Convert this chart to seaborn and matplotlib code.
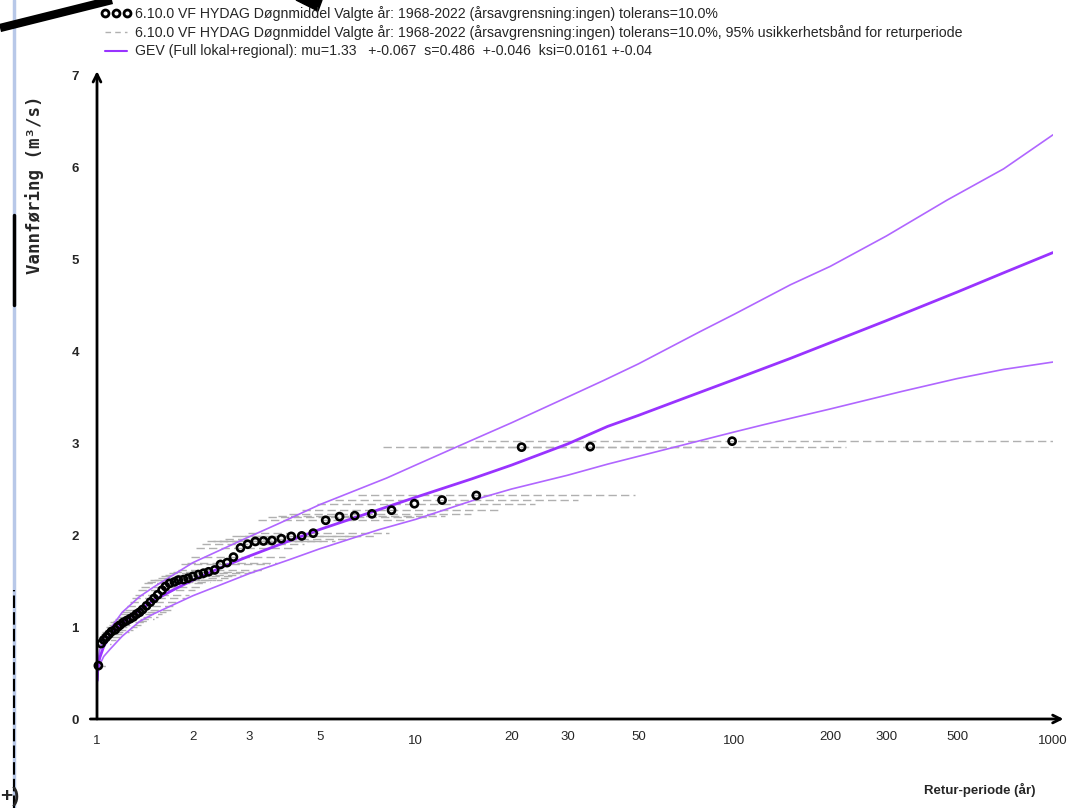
import numpy as np
import pandas as pd
import matplotlib.pyplot as plt
import matplotlib.lines as mlines
import matplotlib.patches as mpatches
import seaborn as sns

# Observerte årsmaksima (sortert fra største), returperiode for hver verdi
retur_obs = [98.4, 35.3, 21.5, 15.5, 12.1, 9.91, 8.40, 7.29, 6.44, 5.77,
             5.22, 4.77, 4.39, 4.07, 3.79, 3.54, 3.33, 3.14, 2.97, 2.82,
             2.68, 2.56, 2.44, 2.34, 2.24, 2.16, 2.08, 2.00, 1.93, 1.87,
             1.80, 1.75, 1.69, 1.64, 1.60, 1.55, 1.51, 1.47, 1.43, 1.39,
             1.36, 1.33, 1.30, 1.27, 1.24, 1.21, 1.18, 1.16, 1.14, 1.11,
             1.09, 1.07, 1.05, 1.03, 1.01]
vannforing_obs = [3.02, 2.96, 2.955, 2.43, 2.38, 2.34, 2.27, 2.23, 2.21, 2.20,
                  2.16, 2.02, 1.99, 1.985, 1.96, 1.94, 1.935, 1.93, 1.90, 1.86,
                  1.76, 1.70, 1.68, 1.62, 1.60, 1.585, 1.57, 1.55, 1.53, 1.515,
                  1.51, 1.49, 1.475, 1.44, 1.40, 1.35, 1.31, 1.27, 1.23, 1.19,
                  1.16, 1.14, 1.11, 1.09, 1.07, 1.05, 1.02, 1.00, 0.97, 0.95,
                  0.92, 0.89, 0.86, 0.82, 0.58]

# 95% usikkerhetsbånd for returperioden til hvert punkt
retur_lav = [15.4, 10.3, 7.9, 6.6, 5.6, 4.9, 4.4, 4.0, 3.7, 3.45,
             3.2, 2.98, 2.81, 2.66, 2.53, 2.42, 2.31, 2.22, 2.13, 2.05,
             1.97, 1.91, 1.84, 1.79, 1.73, 1.68, 1.63, 1.59, 1.55, 1.51,
             1.47, 1.44, 1.40, 1.37, 1.34, 1.32, 1.29, 1.27, 1.24, 1.22,
             1.20, 1.18, 1.16, 1.14, 1.12, 1.10, 1.09, 1.07, 1.06, 1.04,
             1.03, 1.02, 1.01, 1.00, 1.00]
retur_hoy = [1000, 224, 86.6, 48.7, 32.4, 23.7, 18.4, 14.9, 12.4, 11.0,
             9.29, 8.24, 7.39, 6.68, 6.09, 5.58, 5.15, 4.78, 4.45, 4.16,
             3.90, 3.68, 3.47, 3.29, 3.12, 2.97, 2.83, 2.70, 2.58, 2.47,
             2.37, 2.27, 2.19, 2.10, 2.03, 1.95, 1.89, 1.82, 1.76, 1.71,
             1.65, 1.60, 1.55, 1.51, 1.46, 1.405, 1.37, 1.333, 1.294, 1.256,
             1.218, 1.179, 1.145, 1.107, 1.069]

# GEV-kurve (midt) og konfidensbånd (øvre / nedre)
retur_midt = [1.002, 1.005, 1.01, 1.02, 1.05, 1.1, 1.2, 1.3, 1.5, 1.75, 2, 2.5, 3,
              4, 5, 7, 10, 15, 20, 30, 40, 50, 70, 100, 150, 200, 300, 500, 700, 1000]
gev_midt = [0.42, 0.52, 0.59, 0.665, 0.79, 0.905, 1.045, 1.14, 1.285, 1.41, 1.51, 1.66, 1.77,
            1.935, 2.06, 2.23, 2.41, 2.61, 2.76, 2.99, 3.18, 3.30, 3.49, 3.69, 3.92, 4.09,
            4.33, 4.64, 4.85, 5.07]
retur_ovre = [1.002, 1.005, 1.01, 1.02, 1.05, 1.1, 1.2, 1.36, 1.5, 2, 3, 3.75, 5, 8.12,
              10, 15, 20, 30, 38.9, 50, 78, 100, 150, 200, 300, 465, 700, 1000]
gev_ovre = [0.45, 0.56, 0.66, 0.75, 0.88, 0.98, 1.16, 1.33, 1.43, 1.70, 1.98, 2.13, 2.33, 2.62,
            2.76, 3.03, 3.22, 3.50, 3.68, 3.86, 4.21, 4.40, 4.72, 4.92, 5.25, 5.64, 5.98, 6.35]
retur_nedre = [1.002, 1.005, 1.01, 1.02, 1.05, 1.1, 1.2, 1.36, 1.5, 2, 3, 4, 5, 7.7, 10,
               15.9, 20, 30, 40, 67.5, 100, 124, 200, 335, 500, 700, 1000]
gev_nedre = [0.40, 0.47, 0.53, 0.59, 0.68, 0.76, 0.90, 1.06, 1.14, 1.34, 1.58, 1.73, 1.85,
             2.06, 2.17, 2.40, 2.50, 2.65, 2.77, 2.97, 3.12, 3.20, 3.37, 3.56, 3.70, 3.80, 3.88]

x_ticks = [1, 2, 3, 5, 10, 20, 30, 50, 100, 200, 300, 500, 1000]
y_ticks = [0, 1, 2, 3, 4, 5, 6, 7]

sns.set_style('white')
plt.rcParams['font.family'] = ['Liberation Sans', 'DejaVu Sans']

fig = plt.figure(figsize=(10.89, 8.08), dpi=100)
ax = fig.add_axes([97 / 1089, 1 - 719 / 808, 956 / 1089, 644 / 808])

purple = '#9933ff'
band = '#b066ff'
grey = '#b0b0b0'

# usikkerhetsbånd for returperiode (stiplete)
ax.hlines(vannforing_obs, retur_lav, retur_hoy, colors=grey,
          linestyles=(0, (6, 3)), linewidth=1, zorder=1)

sns.lineplot(x=retur_ovre, y=gev_ovre, ax=ax, color=band, lw=1.2, zorder=2)
sns.lineplot(x=retur_nedre, y=gev_nedre, ax=ax, color=band, lw=1.2, zorder=2)
sns.lineplot(x=retur_midt, y=gev_midt, ax=ax, color=purple, lw=2, zorder=3)

sns.scatterplot(x=retur_obs, y=vannforing_obs, ax=ax, marker='o', s=26,
                facecolor='none', edgecolor='black', linewidth=1.9, zorder=5,
                clip_on=False)

ax.set_xscale('log')
ax.set_xlim(1, 1000)
ax.set_ylim(0, 7)
ax.set_xlabel('')
ax.set_ylabel('')
ax.xaxis.set_minor_locator(plt.NullLocator())
ax.set_xticks(x_ticks)
ax.set_xticklabels([str(t) for t in x_ticks], fontsize=9.5)
ax.set_yticks(y_ticks)
ax.set_yticklabels([str(t) for t in y_ticks], fontsize=9.5, fontweight='bold')
ax.tick_params(axis='y', length=5, width=2, pad=8, color='black')
ax.tick_params(axis='x', width=2, color='black')
for t, tick in zip(x_ticks, ax.xaxis.get_major_ticks()):
    if t in (1, 10, 100, 1000):
        tick.tick1line.set_markersize(7)
        tick.set_pad(8)
    else:
        tick.tick1line.set_markersize(4)
        tick.set_pad(5)

for s in ax.spines.values():
    s.set_visible(False)
ax.annotate('', xy=(1.011, 0), xycoords='axes fraction', xytext=(-0.007, 0),
            arrowprops=dict(arrowstyle='->', lw=2, color='black', shrinkA=0, shrinkB=0,
                            mutation_scale=14))
ax.annotate('', xy=(0, 1.006), xycoords='axes fraction', xytext=(0, 0),
            arrowprops=dict(arrowstyle='->', lw=2, color='black', shrinkA=0, shrinkB=0,
                            mutation_scale=14))

# tegnforklaring
h1 = mlines.Line2D([], [], ls='none', marker='o', mfc='none', mec='black', mew=2, ms=5)
h2 = mlines.Line2D([], [], color=grey, ls=(0, (4, 3)), lw=1)
h3 = mlines.Line2D([], [], color=purple, lw=1.5)
labels = ['6.10.0 VF HYDAG Døgnmiddel Valgte år: 1968-2022 (årsavgrensning:ingen) tolerans=10.0%',
          '6.10.0 VF HYDAG Døgnmiddel Valgte år: 1968-2022 (årsavgrensning:ingen) tolerans=10.0%, 95% usikkerhetsbånd for returperiode',
          'GEV (Full lokal+regional): mu=1.33   +-0.067  s=0.486  +-0.046  ksi=0.0161 +-0.04']
fig.legend([h1, h2, h3], labels, loc='upper left', bbox_to_anchor=(101 / 1089, 1 - 6 / 808),
           frameon=False, numpoints=3, handlelength=2.1, handletextpad=0.3,
           labelspacing=0.3, fontsize=10.2, borderaxespad=0, borderpad=0)

fig.text(35 / 1089, 1 - 185 / 808, 'Vannføring (m³/s)', rotation=90, ha='center', va='center',
         family=['DejaVu Sans Mono'], fontweight='bold', fontsize=12.5)
fig.text(1035 / 1089, 1 - 790 / 808, 'Retur-periode (år)', ha='right', va='center',
         fontsize=9.5, fontweight='bold')

# rester fra skjermbildet
fig.add_artist(mlines.Line2D([14 / 1089, 14 / 1089], [0, 1], color='#b8c8e8', lw=2.5))
fig.add_artist(mlines.Line2D([14 / 1089, 14 / 1089], [1 - 305 / 808, 1 - 215 / 808],
                             color='black', lw=2.5))
fig.add_artist(mlines.Line2D([14 / 1089, 14 / 1089], [0, 1 - 590 / 808],
                             color='black', lw=1.5, ls=(0, (6, 2))))
fig.add_artist(mlines.Line2D([0, 112 / 1089], [1 - 28 / 808, 1], color='black', lw=6,
                             solid_capstyle='butt'))
fig.add_artist(mpatches.Polygon([(296 / 1089, 1), (322 / 1089, 1), (318 / 1089, 1 - 11 / 808)],
                                closed=True, color='black', transform=fig.transFigure))
fig.text(0, 1 - 797 / 808, '+)', fontsize=15, fontweight='bold', va='center', ha='left')

fig.savefig('out.png', dpi=100)
